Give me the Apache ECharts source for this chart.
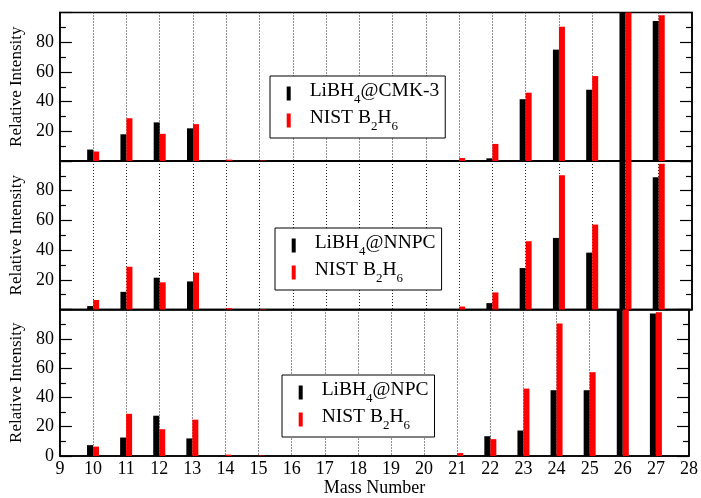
<!DOCTYPE html>
<html>
<head>
<meta charset="utf-8">
<script src="https://cdn.jsdelivr.net/npm/echarts@6/dist/echarts.min.js"></script>
<style>html,body{margin:0;padding:0;background:#fff;}#c{width:701px;height:498px;}</style>
</head>
<body>
<div id="c"></div>
<script>
// ---- data ----
const massNumbers = [10, 11, 12, 13, 14, 15, 16, 17, 18, 19, 20, 21, 22, 23, 24, 25, 26, 27];
const libh4CMK3  = [7.7, 18.0, 26.0, 22.0, 0, 0, 0, 0, 0, 0, 0, 0, 1.8, 41.6, 75.0, 48.0, 100, 94.2];
const libh4NNPC  = [2.3, 11.9, 21.4, 18.9, 0, 0, 0, 0, 0, 0, 0, 0, 4.3, 27.9, 48.2, 38.3, 100, 89.0];
const libh4NPC   = [7.4, 12.6, 27.5, 12.0, 0, 0, 0, 0, 0, 0, 0, 0, 13.5, 17.4, 44.9, 44.9, 100, 97.3];
const nistB2H6   = [6.4, 28.8, 18.3, 24.8, 0.9, 0.3, 0, 0, 0, 0, 0, 2.0, 11.5, 46.0, 90.4, 57.2, 100, 98.1];
const sampleNames = ['LiBH4@CMK-3', 'LiBH4@NNPC', 'LiBH4@NPC'];
const sampleSeries = [libh4CMK3, libh4NNPC, libh4NPC];
const referenceName = 'NIST B2H6';
const xAxisName = 'Mass Number';
const yAxisName = 'Relative Intensity';
const xMin = 9, xMax = 28;
const yMin = 0, yMax = 100, yStep = 20;

// ---- layout ----
const FONT = '"Liberation Serif", "Times New Roman", serif';
const gridTops = [12.5, 161, 309.5];
const gridHeight = 148.5;
const legendPos = [[270, 76], [275, 228], [282, 375]];

const pairs = arr => massNumbers.map((m, i) => [m, arr[i]]);

function richName(name) {
  if (name.indexOf('NIST') === 0) return '{sp|}{n|NIST B}{s|2}{n|H}{s|6}';
  const rest = name.replace('LiBH4', '');
  return '{sp|}{n|LiBH}{s|4}{n|' + rest + '}';
}

const grids = [], xAxes = [], yAxes = [], series = [], legends = [];
const axisLineStyle = { color: '#000', width: 1.5 };

for (let i = 0; i < 3; i++) {
  grids.push({ left: 59, right: 9, top: gridTops[i], height: gridHeight, show: true,
               borderColor: '#000', borderWidth: 1.5, backgroundColor: 'transparent' });
  xAxes.push({
    gridIndex: i, type: 'value', min: xMin, max: xMax, interval: 1,
    axisLine: { show: true, onZero: false, lineStyle: axisLineStyle },
    axisTick: { show: false },
    axisLabel: { show: i === 2, fontSize: 18, fontFamily: FONT, color: '#000', margin: 4 },
    splitLine: { show: true, lineStyle: { type: [1, 2], color: '#222', width: 1 } },
    name: i === 2 ? xAxisName : '', nameLocation: 'middle', nameGap: 23,
    nameTextStyle: { fontSize: 18, fontFamily: FONT, color: '#000' }
  });
  const yBase = {
    gridIndex: i, type: 'value', min: yMin, max: yMax, interval: yStep,
    axisLine: { show: true, lineStyle: axisLineStyle },
    axisTick: { show: true, inside: true, length: 12, lineStyle: { color: '#000', width: 1.2 } },
    minorTick: { show: true, splitNumber: 2, length: 6, lineStyle: { color: '#000', width: 1.2 } },
    splitLine: { show: false }, minorSplitLine: { show: false }
  };
  yAxes.push(Object.assign({}, yBase, {
    position: 'left',
    axisLabel: { show: true, showMinLabel: i === 2, showMaxLabel: false, margin: 6,
                 fontSize: 18, fontFamily: FONT, color: '#000' },
    name: yAxisName, nameLocation: 'middle', nameGap: 26, nameRotate: 90,
    nameTextStyle: { fontSize: 17, fontFamily: FONT, color: '#000' }
  }));
  yAxes.push(Object.assign({}, yBase, { position: 'right', axisLabel: { show: false } }));

  const sName = sampleNames[i];
  const rName = referenceName + ' #' + (i + 1);
  series.push({ type: 'bar', name: sName, xAxisIndex: i, yAxisIndex: 2 * i,
    data: pairs(sampleSeries[i]), barWidth: 6, barGap: '0%', itemStyle: { color: '#000' } });
  series.push({ type: 'bar', name: rName, xAxisIndex: i, yAxisIndex: 2 * i,
    data: pairs(nistB2H6), barWidth: 6, barGap: '0%', itemStyle: { color: '#ff0000' } });

  legends.push({
    data: [sName, rName], orient: 'vertical', left: legendPos[i][0], top: legendPos[i][1],
    selectedMode: false, icon: 'rect', itemWidth: 4, itemHeight: 14, itemGap: 1,
    padding: [4.5, 6, 4.5, 16.7], borderColor: '#000', borderWidth: 1, backgroundColor: '#fff',
    formatter: richName,
    textStyle: {
      color: '#000', fontFamily: FONT, fontSize: 19.5,
      rich: {
        sp: { width: 14, lineHeight: 26, height: 26 },
        n: { fontSize: 19.5, fontFamily: FONT, color: '#000', lineHeight: 19.5, verticalAlign: 'top' },
        s: { fontSize: 13, fontFamily: FONT, color: '#000', lineHeight: 13, verticalAlign: 'bottom' }
      }
    }
  });
}

const chart = echarts.init(document.getElementById('c'), null, { renderer: 'canvas' });
chart.setOption({
  animation: false,
  backgroundColor: '#fff',
  grid: grids, xAxis: xAxes, yAxis: yAxes, series: series, legend: legends
});
</script>
</body>
</html>
